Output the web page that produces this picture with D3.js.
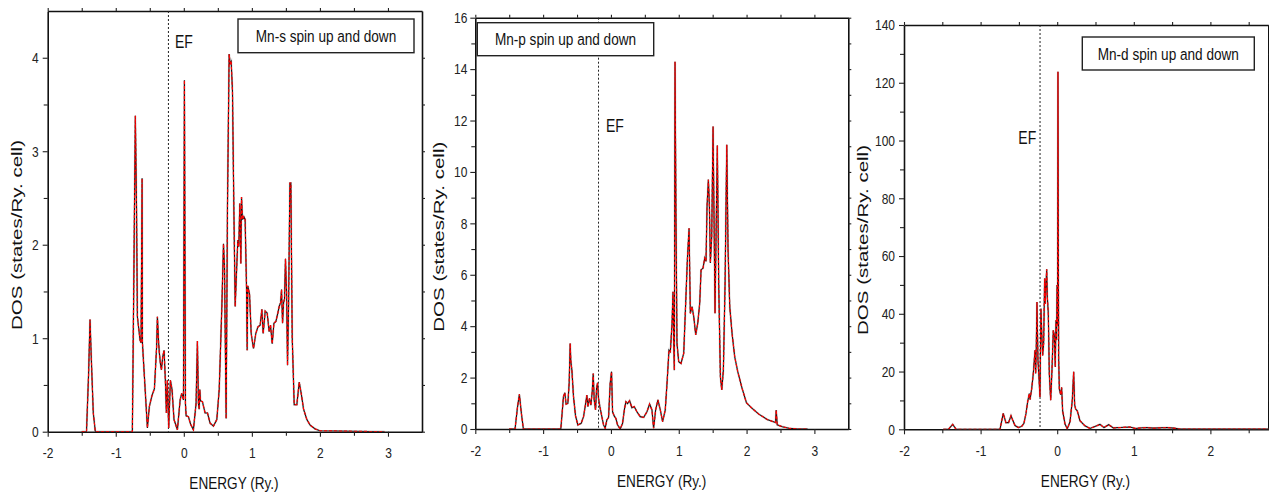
<!DOCTYPE html>
<html><head><meta charset="utf-8">
<script src="https://cdn.jsdelivr.net/npm/d3@7"></script>
<style>body{margin:0;background:#fff} svg{display:block}</style>
</head><body><svg id="c" width="1269" height="497"></svg>
<script>
// ---- data (energy in Ry, DOS in states/Ry. cell) ----
const mnS = [[-1.5,0],[-1.43,0],[-1.40,0.6],[-1.378,1.2],[-1.36,0.8],[-1.33,0.2],[-1.30,0],[-0.756,0],[-0.735,1.6],[-0.712,3.38],[-0.695,2.4],[-0.682,1.23],[-0.643,0.98],[-0.628,0.95],[-0.613,2.71],[-0.608,0.95],[-0.58,0.6],[-0.535,0.04],[-0.506,0.27],[-0.47,0.38],[-0.432,0.46],[-0.40,0.9],[-0.388,1.23],[-0.37,0.95],[-0.359,0.84],[-0.344,0.73],[-0.329,0.66],[-0.31,0.8],[-0.29,0.87],[-0.271,0.55],[-0.256,0.2],[-0.242,0.55],[-0.222,0.04],[-0.197,0.55],[-0.173,0.45],[-0.144,0.13],[-0.094,0.02],[-0.054,0.34],[-0.03,0.41],[-0.005,0.34],[0.009,3.76],[0.024,0.3],[0.034,0.17],[0.068,0.16],[0.10,0.08],[0.141,0.02],[0.18,0.3],[0.20,0.97],[0.215,0.3],[0.226,0.24],[0.235,0.45],[0.245,0.33],[0.274,0.32],[0.313,0.20],[0.348,0.2],[0.387,0.09],[0.436,0.06],[0.485,0.13],[0.52,0.45],[0.559,1.34],[0.583,2.01],[0.598,1.76],[0.622,0.14],[0.642,2.44],[0.666,4.04],[0.681,3.94],[0.696,3.96],[0.715,3.65],[0.735,2.41],[0.755,1.34],[0.774,1.7],[0.794,2.05],[0.808,1.98],[0.823,2.44],[0.838,1.80],[0.848,2.51],[0.862,2.27],[0.882,2.3],[0.901,2.27],[0.921,1.56],[0.931,0.87],[0.94,1.56],[0.966,1.47],[0.99,1.05],[1.024,0.89],[1.058,1.05],[1.088,1.12],[1.122,1.14],[1.147,1.31],[1.166,1.05],[1.196,1.29],[1.225,1.27],[1.254,1.07],[1.274,1.14],[1.299,0.94],[1.324,1.16],[1.353,1.18],[1.382,1.27],[1.402,1.34],[1.422,1.38],[1.436,1.52],[1.451,1.16],[1.466,1.38],[1.48,1.42],[1.494,1.85],[1.51,1.49],[1.524,0.71],[1.539,1.34],[1.559,2.66],[1.573,2.66],[1.593,1.01],[1.622,0.29],[1.661,0.29],[1.696,0.53],[1.725,0.41],[1.76,0.24],[1.808,0.13],[1.857,0.07],[1.93,0.03],[2.0,0.01],[2.95,0]];
const mnP = [[-1.502,0],[-1.414,0],[-1.38,0.8],[-1.35,1.35],[-1.32,0.6],[-1.291,0],[-0.739,0],[-0.70,1.26],[-0.68,1.41],[-0.661,0.97],[-0.635,1.0],[-0.616,1.78],[-0.601,3.33],[-0.591,2.62],[-0.576,2.3],[-0.552,1.26],[-0.522,0.51],[-0.488,0.16],[-0.439,0.22],[-0.404,0.48],[-0.38,0.87],[-0.355,1.32],[-0.34,0.87],[-0.316,1.19],[-0.296,0.93],[-0.276,1.45],[-0.261,2.16],[-0.247,1.13],[-0.227,0.74],[-0.212,1.58],[-0.198,1.80],[-0.183,1.19],[-0.163,0.87],[-0.134,0.48],[-0.109,0.16],[-0.085,0.03],[-0.06,0.35],[-0.035,0.45],[-0.011,1.78],[0.009,2.23],[0.024,0.67],[0.048,0.51],[0.073,0.41],[0.097,0.16],[0.137,0],[0.171,0.22],[0.201,0.80],[0.221,1.06],[0.245,0.99],[0.275,1.10],[0.309,0.83],[0.344,0.87],[0.383,0.67],[0.432,0.48],[0.482,0.45],[0.531,0.67],[0.570,0.97],[0.605,0.74],[0.629,0.03],[0.659,0.74],[0.693,1.13],[0.728,0.74],[0.762,0.29],[0.801,0.74],[0.827,1.78],[0.856,3.07],[0.876,3.01],[0.901,4.1],[0.915,5.34],[0.925,3.46],[0.935,2.29],[0.945,14.29],[0.959,8.27],[0.974,3.33],[0.999,2.62],[1.033,2.55],[1.073,2.94],[1.102,4.89],[1.127,6.58],[1.152,7.81],[1.171,4.5],[1.196,4.76],[1.221,4.37],[1.25,3.66],[1.28,4.11],[1.309,4.89],[1.329,6.19],[1.358,6.26],[1.383,6.65],[1.402,6.52],[1.417,8.66],[1.437,9.7],[1.452,8.66],[1.466,6.46],[1.486,7.49],[1.506,11.77],[1.520,8.27],[1.535,4.5],[1.550,7.49],[1.569,11.03],[1.589,5.67],[1.614,2.04],[1.634,1.52],[1.658,2.29],[1.683,5.67],[1.708,11.06],[1.727,6.97],[1.752,4.76],[1.786,3.72],[1.825,2.81],[1.870,2.23],[1.934,1.58],[1.998,1.02],[2.082,0.8],[2.180,0.58],[2.304,0.37],[2.427,0.25],[2.437,0.74],[2.452,0.16],[2.526,0.09],[2.625,0.03],[2.748,0],[2.9,0]];
const mnD = [[-1.487,0],[-1.42,0],[-1.364,1.7],[-1.32,0],[-0.747,0],[-0.704,5.5],[-0.67,2.3],[-0.635,2.3],[-0.603,4.7],[-0.581,3.2],[-0.551,1.3],[-0.507,0.6],[-0.464,1.0],[-0.434,2.1],[-0.407,5.5],[-0.386,9.5],[-0.364,12.4],[-0.355,10.3],[-0.333,14.1],[-0.312,19.3],[-0.299,23.9],[-0.29,27.4],[-0.281,19.3],[-0.273,28.5],[-0.264,44.1],[-0.251,23.9],[-0.238,18.1],[-0.225,11.2],[-0.212,41.8],[-0.203,34.3],[-0.19,25.6],[-0.177,29.7],[-0.164,52.2],[-0.155,43.5],[-0.146,50.4],[-0.137,55.4],[-0.129,45.9],[-0.116,40.1],[-0.103,19.3],[-0.085,10.1],[-0.068,20.5],[-0.051,34.3],[-0.038,32.6],[-0.025,21.6],[-0.016,37.8],[-0.008,30.9],[-0.002,50],[0.004,36],[0.010,123.8],[0.019,24.6],[0.028,14],[0.045,12],[0.058,14.5],[0.071,6.4],[0.102,1.8],[0.132,0.2],[0.167,2.6],[0.197,10],[0.215,19.9],[0.228,8.5],[0.241,7],[0.262,6.4],[0.297,3],[0.362,1.2],[0.428,0.3],[0.515,1.2],[0.558,1.7],[0.611,0.6],[0.672,1.6],[0.733,0.5],[0.82,0.6],[0.95,0.8],[1.02,0.3],[1.15,0.6],[1.26,0.4],[1.43,0.6],[1.52,0.4],[1.6,0.1],[2.8,0.1]];

const legendLabels = ["Mn-s spin up and down", "Mn-p spin up and down", "Mn-d spin up and down"];
const xTicks = [-2, -1, 0, 1, 2, 3];
const yTicksS = [0, 1, 2, 3, 4];
const yTicksP = [0, 2, 4, 6, 8, 10, 12, 14, 16];
const yTicksD = [0, 20, 40, 60, 80, 100, 120, 140];
const efEnergy = [-0.226, -0.183, -0.224];
const xTitle = "ENERGY (Ry.)";
const yTitle = "DOS (states/Ry. cell)";
const efText = "EF";

// ---- layout ----
const font = "'Liberation Sans',Arial,sans-serif";
const SQ = 0.8; // horizontal squeeze to imitate a condensed face
const panels = [
  {data: mnS, yTicks: yTicksS, yMinor: 0.5, xDom: [-2, 3.5], yDom: [0, 4.5],
   L: 47.7, R: 422, T: 11, B: 431.7, ef: efEnergy[0], efPos: [175, 48],
   box: [238, 19, 176, 33.7], yt: [22, 235], xt: [234, 489], ypad: 4},
  {data: mnP, yTicks: yTicksP, yMinor: 1, xDom: [-2, 3.5], yDom: [0, 16],
   L: 475.3, R: 848.3, T: 17.7, B: 429, ef: efEnergy[1], efPos: [606, 132],
   box: [477.3, 22.7, 176.4, 33], yt: [443.5, 236.7], xt: [661.7, 486.5], ypad: 3},
  {data: mnD, yTicks: yTicksD, yMinor: 10, xDom: [-2, 2.756], yDom: [0, 140],
   L: 904, R: 1268.3, T: 25, B: 429.3, ef: efEnergy[2], efPos: [1018.3, 144],
   box: [1082.3, 37, 172, 33], yt: [868, 240], xt: [1085.5, 486.5], ypad: 4}
];

// squeezed text placed at (x,y)
function sqText(g, x, y, str, size, anchor) {
  return g.append("text").attr("transform", `translate(${x},${y}) scale(${SQ},1)`)
    .attr("text-anchor", anchor || "start").text(str)
    .attr("font-family", font).attr("font-size", size).attr("fill", "#111");
}

const svg = d3.select("#c");
panels.forEach((p, i) => {
  const x = d3.scaleLinear().domain(p.xDom).range([p.L, p.R]);
  const y = d3.scaleLinear().domain(p.yDom).range([p.B, p.T]);
  const g = svg.append("g");

  const cid = "clip" + i;
  svg.append("clipPath").attr("id", cid).append("rect")
    .attr("x", p.L).attr("y", p.T - 2).attr("width", p.R - p.L).attr("height", p.B - p.T + 2);

  const xMinor = d3.range(p.xDom[0] + 0.5, p.xDom[1], 1);
  const yMinor = d3.range(p.yDom[0] + p.yMinor, p.yDom[1], p.yMinor * 2);
  const noText = sel => sel.selectAll(".tick text").remove();
  const xt = xTicks.filter(v => v <= p.xDom[1]);

  const gx = g.append("g").attr("transform", `translate(0,${p.B})`)
    .call(d3.axisBottom(x).tickValues(xt).tickFormat(d => String(d)).tickSize(5).tickSizeOuter(0).tickPadding(11));
  g.append("g").attr("transform", `translate(0,${p.B})`)
    .call(d3.axisBottom(x).tickValues(xMinor).tickSize(4).tickSizeOuter(0))
    .call(noText).select(".domain").remove();
  const gy = g.append("g").attr("transform", `translate(${p.L},0)`)
    .call(d3.axisLeft(y).tickValues(p.yTicks).tickFormat(d => String(d)).tickSize(5).tickSizeOuter(0).tickPadding(p.ypad));
  g.append("g").attr("transform", `translate(${p.L},0)`)
    .call(d3.axisLeft(y).tickValues(yMinor).tickSize(4).tickSizeOuter(0))
    .call(noText).select(".domain").remove();
  g.append("g").attr("transform", `translate(0,${p.T})`)
    .call(d3.axisTop(x).tickValues(xt.concat(xMinor)).tickSize(3).tickSizeOuter(0))
    .call(noText);
  g.append("g").attr("transform", `translate(${p.R},0)`)
    .call(d3.axisRight(y).tickValues(p.yTicks.concat(yMinor)).tickSize(3).tickSizeOuter(0))
    .call(noText);

  g.selectAll(".domain").attr("stroke", "#111").attr("stroke-width", 1.6);
  g.selectAll(".tick line").attr("stroke", "#222").attr("stroke-width", 1.1);
  g.selectAll(".tick text").attr("font-family", font).attr("font-size", 15).attr("fill", "#222");
  // squeeze tick labels horizontally, keeping their anchor positions
  gy.selectAll(".tick text").each(function () {
    const t = d3.select(this); const tx = +t.attr("x");
    t.attr("x", tx / SQ).attr("transform", `scale(${SQ},1)`);
  });
  gx.selectAll(".tick text").attr("transform", `scale(${SQ},1)`);

  g.append("line").attr("x1", x(p.ef)).attr("x2", x(p.ef)).attr("y1", p.T).attr("y2", p.B)
    .attr("stroke", "#222").attr("stroke-width", 1).attr("stroke-dasharray", "2,2");
  sqText(g, p.efPos[0], p.efPos[1], efText, 17.5);

  const line = d3.line().x(d => x(d[0])).y(d => y(d[1]));
  const cg = g.append("g").attr("clip-path", `url(#${cid})`);
  cg.append("path").datum(p.data).attr("d", line).attr("fill", "none")
    .attr("stroke", "#aaa").attr("stroke-width", 2.2).attr("stroke-opacity", 0.45);
  cg.append("path").datum(p.data).attr("d", line).attr("fill", "none")
    .attr("stroke", "#111").attr("stroke-width", 1.1);
  cg.append("path").datum(p.data).attr("d", line).attr("fill", "none")
    .attr("stroke", "#ff0000").attr("stroke-width", 1.2).attr("stroke-dasharray", "3,2");

  const [bx, by, bw, bh] = p.box;
  g.append("rect").attr("x", bx).attr("y", by).attr("width", bw).attr("height", bh)
    .attr("fill", "#fff").attr("stroke", "#222").attr("stroke-width", 1.4);
  sqText(g, bx + bw / 2, by + bh / 2 + 6, legendLabels[i], 17, "middle");

  sqText(g, p.xt[0], p.xt[1], xTitle, 17, "middle");
  g.append("text").attr("transform", `translate(${p.yt[0]},${p.yt[1]}) rotate(-90)`)
    .attr("text-anchor", "middle").text(yTitle)
    .attr("font-family", font).attr("font-size", 14).attr("fill", "#111")
    .attr("textLength", 190).attr("lengthAdjust", "spacingAndGlyphs");
});
</script></body></html>
